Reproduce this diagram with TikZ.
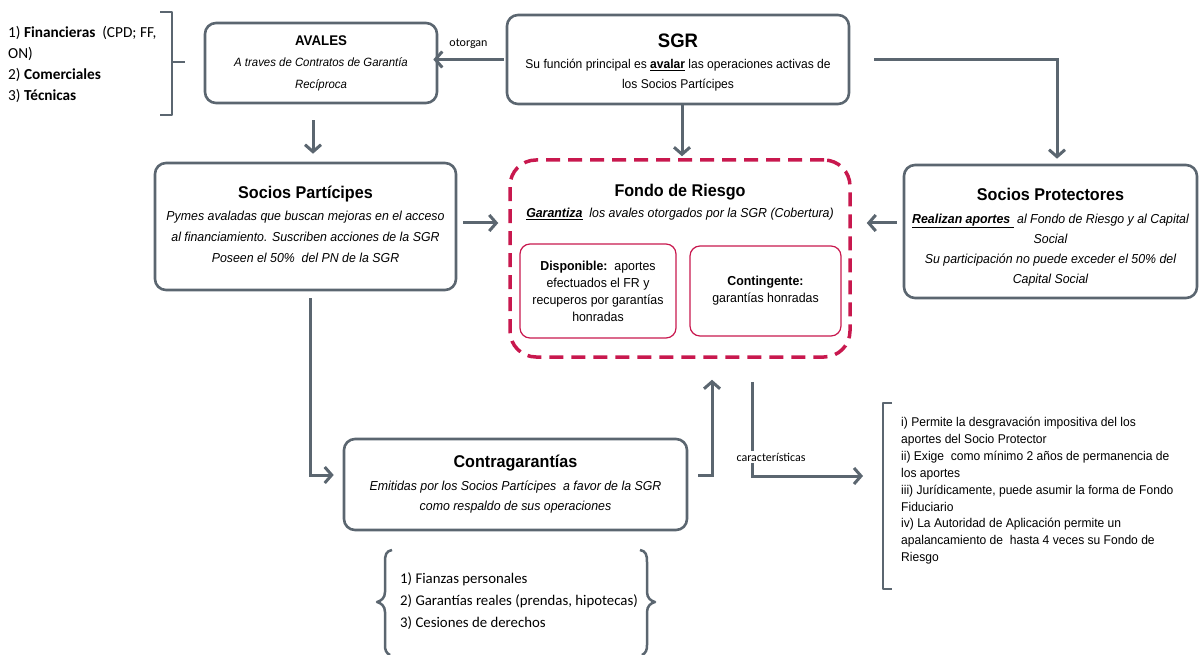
\documentclass[tikz,border=0pt]{standalone}
\usepackage{fontspec}
\setmainfont{Liberation Sans}[FakeStretch=0.95]
\newfontfamily\calib{Carlito}
\usetikzlibrary{arrows.meta}
\definecolor{gr}{HTML}{5B6670}
\definecolor{crim}{HTML}{C8184E}
\tikzset{
  box/.style={draw=gr, line width=2.6pt, rounded corners=11pt, align=center, inner sep=0pt},
  redbox/.style={draw=crim, line width=1.2pt, rounded corners=10pt, align=center, inner sep=0pt},
  arr/.style={draw=gr, line width=3pt, -{Straight Barb[length=7pt,width=16pt,line width=3pt]}},
  brk/.style={draw=gr, line width=2.5pt, line join=round},
  cal/.style={align=left, inner sep=0pt},
}
\begin{document}
\begin{tikzpicture}[x=1pt,y=-1pt]
\useasboundingbox (0,0) rectangle (1199,655);

% boxes
\node[box, minimum width=232pt, minimum height=80pt, font=\fontsize{12}{21.5}\selectfont\itshape] (avales) at (321,63)
  {{\upshape\fontsize{14}{21}\selectfont\bfseries AVALES}\\
   A traves de Contratos de Garantía\\
   Recíproca};

\node[box, minimum width=342pt, minimum height=89pt, font=\fontsize{12.7}{20}\selectfont] (sgr) at (678,59.5)
  {{\fontsize{19.5}{21}\selectfont\bfseries\rule{0pt}{20pt}SGR}\\[1pt]
   Su función principal es \underline{\textbf{avalar}} las operaciones activas de\\
   los Socios Partícipes};

\node[box, minimum width=301pt, minimum height=127pt, font=\fontsize{13}{21}\selectfont\itshape] (sp) at (305.5,226.5)
  {{\upshape\fontsize{17}{22}\selectfont\bfseries Socios Partícipes}\\[1pt]
   Pymes avaladas que buscan mejoras en el acceso\\
   al financiamiento. Suscriben acciones de la SGR\\
   Poseen el 50\%\ \ del PN de la SGR\rule[-5pt]{0pt}{5pt}};

\node[draw=crim, line width=3.5pt, dash pattern=on 14pt off 8pt, rounded corners=26pt,
      minimum width=340pt, minimum height=197pt, inner sep=0pt] (fondo) at (680,258.5) {};
\node[inner sep=0pt, font=\fontsize{17}{21}\selectfont\bfseries] (fondoT) at (680,192) {Fondo de Riesgo};
\node[inner sep=0pt, font=\fontsize{13}{21}\selectfont\itshape] (fondoS) at (680,214)
  {\underline{\textbf{Garantiza}}\ \ los avales otorgados por la SGR (Cobertura)};

\node[redbox, minimum width=156pt, minimum height=94pt, font=\fontsize{13}{17}\selectfont] (disp) at (598,291)
  {\textbf{Disponible:}\ \ aportes\\
   efectuados el FR y\\
   recuperos por garantías\\
   honradas};
\node[redbox, minimum width=151pt, minimum height=90pt, font=\fontsize{13}{17}\selectfont] (cont) at (765.5,291)
  {\textbf{Contingente:}\\
   garantías honradas};

\node[box, minimum width=293pt, minimum height=133pt, font=\fontsize{13}{20}\selectfont\itshape] (prot) at (1050.5,231.5)
  {{\upshape\fontsize{17}{22}\selectfont\bfseries\rule{0pt}{23pt}Socios Protectores}\\[3pt]
   \underline{\textbf{Realizan aportes\ }}\ al Fondo de Riesgo y al Capital\\
   Social\\
   Su participación no puede exceder el 50\% del\\
   Capital Social};

\node[box, minimum width=343pt, minimum height=91pt, font=\fontsize{13}{20}\selectfont\itshape] (contra) at (515.5,484.5)
  {{\upshape\fontsize{17}{22}\selectfont\bfseries Contragarantías}\\[3pt]
   Emitidas por los Socios Partícipes\ \ a favor de la SGR\\
   como respaldo de sus operaciones};

% lists
\node[cal, anchor=north west, font=\calib\fontsize{15.3}{21}\selectfont] (tl) at (8,26)
  {1) \textbf{Financieras}\ \ (CPD; FF,\\ ON)\\ 2) \textbf{Comerciales}\\ 3) \textbf{Técnicas}};
\node[cal, anchor=north west, font=\calib\fontsize{14.8}{22}\selectfont] (bl) at (400,572)
  {1) Fianzas personales\\ 2) Garantías reales (prendas, hipotecas)\\ 3) Cesiones de derechos};
\node[anchor=north west, inner sep=0pt, align=left, font=\fontsize{12.7}{16.9}\selectfont] (rl) at (901,417)
  {i) Permite la desgravación impositiva del los\\
   aportes del Socio Protector\\
   ii) Exige\ \ como mínimo 2 años de permanencia de\\
   los aportes\\
   iii) Jurídicamente, puede asumir la forma de Fondo\\
   Fiduciario\\
   iv) La Autoridad de Aplicación permite un\\
   apalancamiento de\ \ hasta 4 veces su Fondo de\\
   Riesgo};

% brackets
\draw[brk] (160,12) -- (172,12) -- (172,115) -- (160,115);
\draw[brk] (172,62) -- (185,62);
\draw[brk] (892,403) -- (883,403) -- (883,589) -- (892,589);
\draw[brk] (392,550) .. controls (386,551) and (385,555) .. (385,562) -- (385,592)
  .. controls (385,598) and (381,601) .. (377,602) .. controls (381,603) and (385,606) .. (385,612)
  -- (385,645) .. controls (385,650) and (386,653) .. (390,655);
\draw[brk] (640,550) .. controls (646,551) and (647,555) .. (647,562) -- (647,592)
  .. controls (647,598) and (651,601) .. (655,602) .. controls (651,603) and (647,606) .. (647,612)
  -- (647,645) .. controls (647,650) and (646,653) .. (642,655);

% connectors
\draw[arr] ([xshift=-2pt]sgr.west) -- ([xshift=-5pt,yshift=3.5pt]avales.east)
  node[midway, above=6pt, font=\calib\fontsize{12}{14}\selectfont, text=black] (otorgan) {otorgan};
\draw[arr] ([xshift=-8pt,yshift=-16pt]avales.south) -- ([xshift=7.5pt,yshift=8pt]sp.north);
\draw[arr] ([xshift=4pt]sgr.south) -- ([xshift=2pt,yshift=2pt]fondo.north);
\draw[arr] ([xshift=24pt]sgr.east) -| ([xshift=6.5pt,yshift=5pt]prot.north);
\draw[arr] ([xshift=6pt,yshift=3.5pt]sp.east) -- ([xshift=-10pt,yshift=35.5pt]fondo.west);
\draw[arr] ([xshift=-6pt,yshift=8.5pt]prot.west) -- ([xshift=15pt,yshift=35.5pt]fondo.east);
\draw[arr] ([xshift=4.5pt,yshift=-7pt]sp.south) |- ([xshift=-9pt,yshift=9.5pt]contra.west);
\draw[arr] ([xshift=10pt,yshift=9.5pt]contra.east) -| ([xshift=32pt,yshift=-21pt]fondo.south);
\coordinate (carEnd) at (863,476);
\draw[arr] ([xshift=72pt,yshift=-23pt]fondo.south) |- (carEnd);
\node[fill=white, inner sep=2pt, font=\calib\fontsize{12}{14}\selectfont] (caract) at (771,457) {características};
\end{tikzpicture}
\end{document}
